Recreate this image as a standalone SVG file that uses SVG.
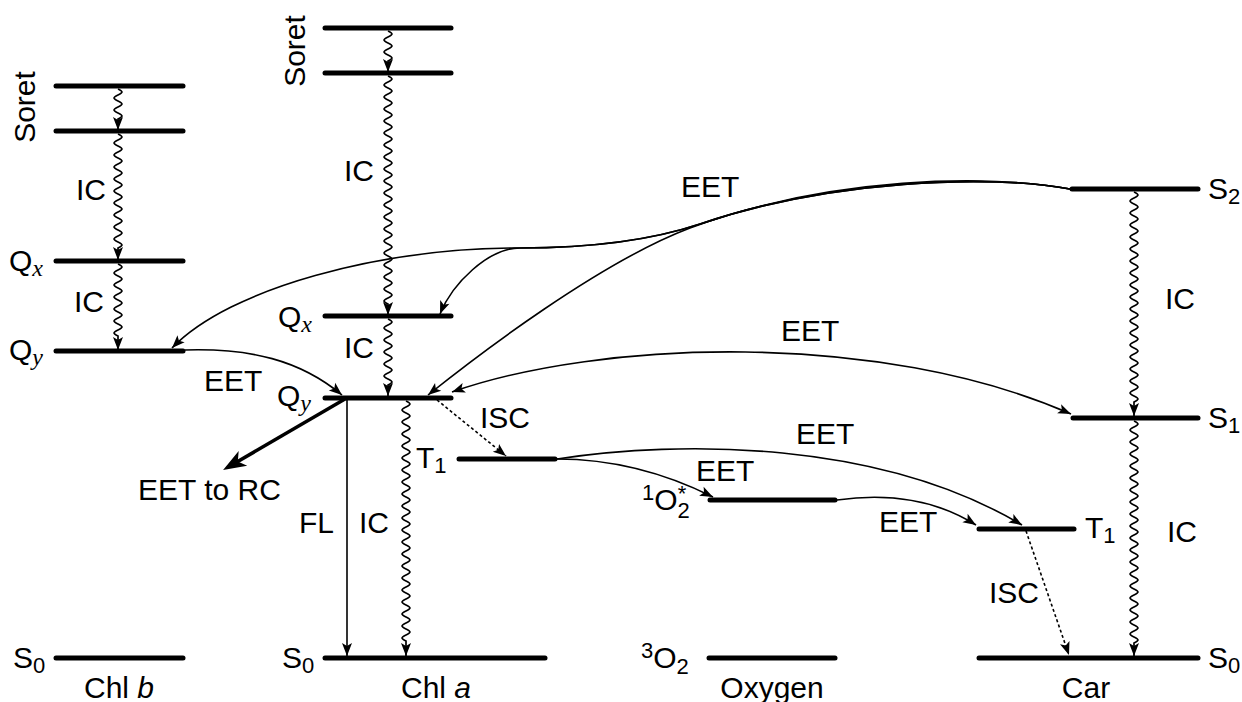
<svg xmlns="http://www.w3.org/2000/svg" width="1242" height="702" viewBox="0 0 1242 702">
  <style>
    text { font-family: "Liberation Sans", Arial, sans-serif; font-size: 30px; fill: #000; }
    .sub { font-size: 22px; }
    .m { font-family: "Liberation Serif", "DejaVu Serif", serif; font-style: italic; font-size: 24px; }
    .lv { stroke: #000; stroke-width: 5; stroke-linecap: round; fill: none; }
    .ar { stroke: #000; stroke-width: 1.6; fill: none; marker-end: url(#ah); }
    .wv { stroke-width: 1.7; }
    .dbl { marker-start: url(#ah); }
    .ds { stroke-dasharray: 3 2.5; }
    .big { stroke: #000; stroke-width: 3.5; fill: none; marker-end: url(#ahb); }
  </style>
  <defs>
    <marker id="ah" viewBox="-15 -7 17 14" refX="0" refY="0" markerWidth="17" markerHeight="14" markerUnits="userSpaceOnUse" orient="auto-start-reverse" overflow="visible">
      <path d="M0,0 L-13,-5 L-10,0 L-13,5 Z" fill="#000"/>
    </marker>
    <marker id="ahb" viewBox="-26 -11 30 22" refX="-8" refY="0" markerWidth="30" markerHeight="22" markerUnits="userSpaceOnUse" orient="auto" overflow="visible">
      <path d="M0,0 L-23,-8.5 L-17,0 L-23,8.5 Z" fill="#000"/>
    </marker>
  </defs>

  <!-- Chl b levels -->
  <g id="chlb-soret-high"><path class="lv" d="M56,86 H183"/></g>
  <g id="chlb-soret-low"><path class="lv" d="M56,131 H183"/></g>
  <g id="chlb-qx"><path class="lv" d="M56,261 H183"/>
    <text x="9" y="271">Q<tspan class="m" dy="5">x</tspan></text></g>
  <g id="chlb-qy"><path class="lv" d="M56,351 H183"/>
    <text x="9" y="360">Q<tspan class="m" dy="5">y</tspan></text></g>
  <g id="chlb-s0"><path class="lv" d="M56,658 H183"/>
    <text x="13" y="668">S<tspan class="sub" dy="5">0</tspan></text>
    <text x="119" y="698" text-anchor="middle">Chl <tspan font-style="italic">b</tspan></text></g>
  <g id="chlb-soret-label"><text transform="translate(35,107) rotate(-90)" text-anchor="middle">Soret</text></g>

  <!-- Chl a levels -->
  <g id="chla-soret-high"><path class="lv" d="M325,28 H451"/></g>
  <g id="chla-soret-low"><path class="lv" d="M325,73 H451"/></g>
  <g id="chla-qx"><path class="lv" d="M325,316 H451"/>
    <text x="278" y="327">Q<tspan class="m" dy="5">x</tspan></text></g>
  <g id="chla-qy"><path class="lv" d="M325,398 H451"/>
    <text x="277" y="406">Q<tspan class="m" dy="5">y</tspan></text></g>
  <g id="chla-t1"><path class="lv" d="M459,459 H555"/>
    <text x="416" y="468">T<tspan class="sub" dy="5">1</tspan></text></g>
  <g id="chla-s0"><path class="lv" d="M325,658 H545"/>
    <text x="282" y="668">S<tspan class="sub" dy="5">0</tspan></text>
    <text x="436" y="698" text-anchor="middle">Chl <tspan font-style="italic">a</tspan></text></g>
  <g id="chla-soret-label"><text transform="translate(305,51) rotate(-90)" text-anchor="middle">Soret</text></g>

  <!-- Oxygen levels -->
  <g id="oxy-singlet"><path class="lv" d="M710,500 H835"/>
    <text x="642" y="510"><tspan class="sub" dy="-10">1</tspan><tspan dy="10">O</tspan><tspan class="sub" dy="8">2</tspan><tspan class="sub" dx="-12" dy="-17">*</tspan></text></g>
  <g id="oxy-triplet"><path class="lv" d="M709,658 H835"/>
    <text x="641" y="668"><tspan class="sub" dy="-10">3</tspan><tspan dy="10">O</tspan><tspan class="sub" dy="6">2</tspan></text>
    <text x="772" y="698" text-anchor="middle">Oxygen</text></g>

  <!-- Carotenoid levels -->
  <g id="car-s2"><path class="lv" d="M1072,189 H1198"/>
    <text x="1208" y="199">S<tspan class="sub" dy="5">2</tspan></text></g>
  <g id="car-s1"><path class="lv" d="M1073,418 H1198"/>
    <text x="1208" y="428">S<tspan class="sub" dy="5">1</tspan></text></g>
  <g id="car-t1"><path class="lv" d="M979,529 H1074"/>
    <text x="1085" y="538">T<tspan class="sub" dy="5">1</tspan></text></g>
  <g id="car-s0"><path class="lv" d="M979,658 H1198"/>
    <text x="1208" y="668">S<tspan class="sub" dy="5">0</tspan></text>
    <text x="1086" y="698" text-anchor="middle">Car</text></g>

  <g id="connectors">
    <!-- internal conversion (wavy, sine-like half waves of 6px) -->
    <path class="ar wv" d="M118,89 c5.3,2.5 5.3,3.5 0,6 s-5.3,3.5 0,6 s5.3,3.5 0,6 s-5.3,3.5 0,6 s5.3,3.5 0,6 V130"/>
    <path class="ar wv" d="M118,134 c5.3,2.5 5.3,3.5 0,6 s-5.3,3.5 0,6 s5.3,3.5 0,6 s-5.3,3.5 0,6 s5.3,3.5 0,6 s-5.3,3.5 0,6 s5.3,3.5 0,6 s-5.3,3.5 0,6 s5.3,3.5 0,6 s-5.3,3.5 0,6 s5.3,3.5 0,6 s-5.3,3.5 0,6 s5.3,3.5 0,6 s-5.3,3.5 0,6 s5.3,3.5 0,6 s-5.3,3.5 0,6 s5.3,3.5 0,6 s-5.3,3.5 0,6 s5.3,3.5 0,6 V260"/>
    <path class="ar wv" d="M118,264 c5.3,2.5 5.3,3.5 0,6 s-5.3,3.5 0,6 s5.3,3.5 0,6 s-5.3,3.5 0,6 s5.3,3.5 0,6 s-5.3,3.5 0,6 s5.3,3.5 0,6 s-5.3,3.5 0,6 s5.3,3.5 0,6 s-5.3,3.5 0,6 s5.3,3.5 0,6 s-5.3,3.5 0,6 V350"/>
    <path class="ar wv" d="M388,31 c5.3,2.5 5.3,3.5 0,6 s-5.3,3.5 0,6 s5.3,3.5 0,6 s-5.3,3.5 0,6 s5.3,3.5 0,6 V72"/>
    <path class="ar wv" d="M388,76 c5.3,2.5 5.3,3.5 0,6 s-5.3,3.5 0,6 s5.3,3.5 0,6 s-5.3,3.5 0,6 s5.3,3.5 0,6 s-5.3,3.5 0,6 s5.3,3.5 0,6 s-5.3,3.5 0,6 s5.3,3.5 0,6 s-5.3,3.5 0,6 s5.3,3.5 0,6 s-5.3,3.5 0,6 s5.3,3.5 0,6 s-5.3,3.5 0,6 s5.3,3.5 0,6 s-5.3,3.5 0,6 s5.3,3.5 0,6 s-5.3,3.5 0,6 s5.3,3.5 0,6 s-5.3,3.5 0,6 s5.3,3.5 0,6 s-5.3,3.5 0,6 s5.3,3.5 0,6 s-5.3,3.5 0,6 s5.3,3.5 0,6 s-5.3,3.5 0,6 s5.3,3.5 0,6 s-5.3,3.5 0,6 s5.3,3.5 0,6 s-5.3,3.5 0,6 s5.3,3.5 0,6 s-5.3,3.5 0,6 s5.3,3.5 0,6 s-5.3,3.5 0,6 s5.3,3.5 0,6 s-5.3,3.5 0,6 s5.3,3.5 0,6 s-5.3,3.5 0,6 V315"/>
    <path class="ar wv" d="M388,319 c5.3,2.5 5.3,3.5 0,6 s-5.3,3.5 0,6 s5.3,3.5 0,6 s-5.3,3.5 0,6 s5.3,3.5 0,6 s-5.3,3.5 0,6 s5.3,3.5 0,6 s-5.3,3.5 0,6 s5.3,3.5 0,6 s-5.3,3.5 0,6 s5.3,3.5 0,6 V396"/>
    <path class="ar wv" d="M406,401 c5.3,2.5 5.3,3.5 0,6 s-5.3,3.5 0,6 s5.3,3.5 0,6 s-5.3,3.5 0,6 s5.3,3.5 0,6 s-5.3,3.5 0,6 s5.3,3.5 0,6 s-5.3,3.5 0,6 s5.3,3.5 0,6 s-5.3,3.5 0,6 s5.3,3.5 0,6 s-5.3,3.5 0,6 s5.3,3.5 0,6 s-5.3,3.5 0,6 s5.3,3.5 0,6 s-5.3,3.5 0,6 s5.3,3.5 0,6 s-5.3,3.5 0,6 s5.3,3.5 0,6 s-5.3,3.5 0,6 s5.3,3.5 0,6 s-5.3,3.5 0,6 s5.3,3.5 0,6 s-5.3,3.5 0,6 s5.3,3.5 0,6 s-5.3,3.5 0,6 s5.3,3.5 0,6 s-5.3,3.5 0,6 s5.3,3.5 0,6 s-5.3,3.5 0,6 s5.3,3.5 0,6 s-5.3,3.5 0,6 s5.3,3.5 0,6 s-5.3,3.5 0,6 s5.3,3.5 0,6 s-5.3,3.5 0,6 s5.3,3.5 0,6 s-5.3,3.5 0,6 s5.3,3.5 0,6 s-5.3,3.5 0,6 V656"/>
    <path class="ar wv" d="M1134,192 c5.3,2.5 5.3,3.5 0,6 s-5.3,3.5 0,6 s5.3,3.5 0,6 s-5.3,3.5 0,6 s5.3,3.5 0,6 s-5.3,3.5 0,6 s5.3,3.5 0,6 s-5.3,3.5 0,6 s5.3,3.5 0,6 s-5.3,3.5 0,6 s5.3,3.5 0,6 s-5.3,3.5 0,6 s5.3,3.5 0,6 s-5.3,3.5 0,6 s5.3,3.5 0,6 s-5.3,3.5 0,6 s5.3,3.5 0,6 s-5.3,3.5 0,6 s5.3,3.5 0,6 s-5.3,3.5 0,6 s5.3,3.5 0,6 s-5.3,3.5 0,6 s5.3,3.5 0,6 s-5.3,3.5 0,6 s5.3,3.5 0,6 s-5.3,3.5 0,6 s5.3,3.5 0,6 s-5.3,3.5 0,6 s5.3,3.5 0,6 s-5.3,3.5 0,6 s5.3,3.5 0,6 s-5.3,3.5 0,6 s5.3,3.5 0,6 s-5.3,3.5 0,6 s5.3,3.5 0,6 V416"/>
    <path class="ar wv" d="M1134,421 c5.3,2.5 5.3,3.5 0,6 s-5.3,3.5 0,6 s5.3,3.5 0,6 s-5.3,3.5 0,6 s5.3,3.5 0,6 s-5.3,3.5 0,6 s5.3,3.5 0,6 s-5.3,3.5 0,6 s5.3,3.5 0,6 s-5.3,3.5 0,6 s5.3,3.5 0,6 s-5.3,3.5 0,6 s5.3,3.5 0,6 s-5.3,3.5 0,6 s5.3,3.5 0,6 s-5.3,3.5 0,6 s5.3,3.5 0,6 s-5.3,3.5 0,6 s5.3,3.5 0,6 s-5.3,3.5 0,6 s5.3,3.5 0,6 s-5.3,3.5 0,6 s5.3,3.5 0,6 s-5.3,3.5 0,6 s5.3,3.5 0,6 s-5.3,3.5 0,6 s5.3,3.5 0,6 s-5.3,3.5 0,6 s5.3,3.5 0,6 s-5.3,3.5 0,6 s5.3,3.5 0,6 s-5.3,3.5 0,6 s5.3,3.5 0,6 s-5.3,3.5 0,6 s5.3,3.5 0,6 s-5.3,3.5 0,6 s5.3,3.5 0,6 V656"/>

    <!-- fluorescence, intersystem crossing, transfer to RC -->
    <path class="ar" d="M347,400 V656"/>
    <path class="ar ds" d="M437,400 L506,456"/>
    <path class="ar ds" d="M1026,531 L1069,655"/>
    <path class="big" d="M345,399 L230,466"/>

    <!-- excitation energy transfer -->
    <path class="ar" d="M1070,189 C990,174 830,180 700,224 C640,244 570,248 520,248 C380,248 230,288 172,348"/>
    <path class="ar" d="M1070,189 C990,174 830,180 700,224 C640,244 570,248 520,248 C488,248 452,284 440,314"/>
    <path class="ar" d="M1070,189 C990,174 830,176 690,228 C600,262 478,355 428,395"/>
    <path class="ar dbl" d="M452,392 C600,340 880,330 1071,414"/>
    <path class="ar" d="M185,350 C250,348 300,360 342,395"/>
    <path class="ar" d="M557,459 C680,440 880,440 1022,525"/>
    <path class="ar" d="M557,459 C620,459 675,478 713,497"/>
    <path class="ar" d="M837,500 C880,494 930,496 976,525"/>

    <!-- process labels -->
    <text x="76" y="200">IC</text>
    <text x="74" y="312">IC</text>
    <text x="344" y="181">IC</text>
    <text x="344" y="358">IC</text>
    <text x="299" y="533">FL</text>
    <text x="359" y="533">IC</text>
    <text x="1165" y="309">IC</text>
    <text x="1167" y="542">IC</text>
    <text x="138" y="500">EET to RC</text>
    <text x="480" y="428">ISC</text>
    <text x="989" y="603">ISC</text>
    <text x="681" y="197">EET</text>
    <text x="781" y="341">EET</text>
    <text x="204" y="391">EET</text>
    <text x="796" y="444">EET</text>
    <text x="696" y="481">EET</text>
    <text x="879" y="532">EET</text>
  </g>
</svg>
